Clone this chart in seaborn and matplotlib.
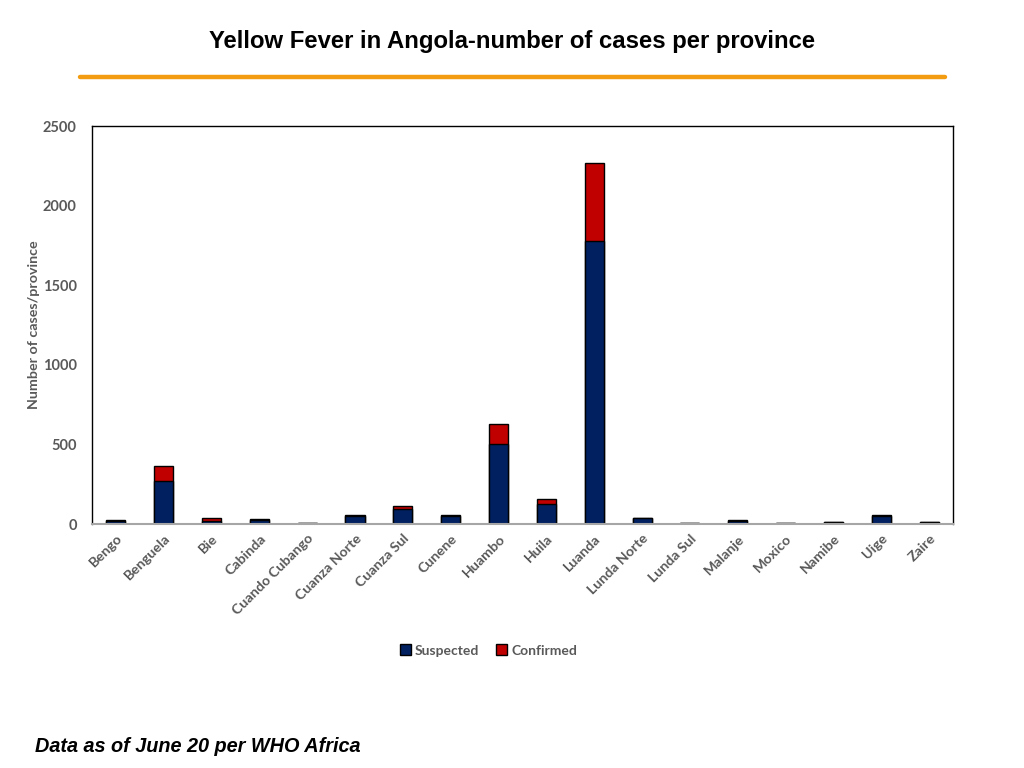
import matplotlib
matplotlib.use("Agg")
import matplotlib.pyplot as plt
import matplotlib.patches as mpatches
import seaborn as sns
import pandas as pd

provinces = ["Bengo", "Benguela", "Bie", "Cabinda", "Cuando Cubango", "Cuanza Norte",
             "Cuanza Sul", "Cunene", "Huambo", "Huila", "Luanda", "Lunda Norte",
             "Lunda Sul", "Malanje", "Moxico", "Namibe", "Uige", "Zaire"]
suspected = [19, 270, 17, 25, 7, 48, 94, 50, 503, 124, 1778, 35, 6, 20, 6, 12, 50, 12]
confirmed = [6, 94, 21, 6, 2, 7, 19, 5, 125, 35, 490, 5, 1, 5, 1, 3, 7, 3]

df = pd.DataFrame({"province": provinces, "suspected": suspected, "confirmed": confirmed})
df["total"] = df["suspected"] + df["confirmed"]

sns.set_style("white")
plt.rcParams["font.family"] = ["Lato", "DejaVu Sans"]
plt.rcParams["text.color"] = "black"

navy = "#002060"
red = "#C00000"
grey = "#595959"

fig = plt.figure(figsize=(10.24, 7.68), dpi=100)
ax = fig.add_axes([0.0898, 0.3177, 0.8409, 0.5182])

# stacked bars: totals in red underneath, suspected in navy on top
sns.barplot(data=df, x="province", y="total", color=red, width=0.4,
            edgecolor="black", linewidth=1, saturation=1, ax=ax)
sns.barplot(data=df, x="province", y="suspected", color=navy, width=0.4,
            edgecolor="black", linewidth=1, saturation=1, ax=ax)

ax.set_ylim(0, 2500)
ax.set_xlim(-0.5, len(provinces) - 0.5)
ax.set_yticks([0, 500, 1000, 1500, 2000, 2500])
ax.set_xlabel("")
ax.set_ylabel("Number of cases/province", fontsize=10.3, fontweight="bold", color=grey, labelpad=2)
ax.tick_params(axis="y", labelsize=10.5, labelcolor=grey, length=0, pad=11)
ax.tick_params(axis="x", labelsize=10.2, labelcolor=grey, length=0, pad=6)
for lbl in ax.get_yticklabels() + ax.get_xticklabels():
    lbl.set_fontweight("bold")
plt.setp(ax.get_xticklabels(), rotation=45, ha="right", rotation_mode="anchor")

for side in ["top", "right", "left"]:
    ax.spines[side].set_color("black")
    ax.spines[side].set_linewidth(1)
ax.spines["bottom"].set_color("#a6a6a6")
ax.spines["bottom"].set_linewidth(1.5)

handles = [mpatches.Patch(facecolor=navy, edgecolor="black", label="Suspected"),
           mpatches.Patch(facecolor=red, edgecolor="black", label="Confirmed")]
leg = fig.legend(handles=handles, loc="center", bbox_to_anchor=(0.477, 0.153), ncol=2,
                 frameon=False, fontsize=10, handlelength=0.8, handleheight=0.8,
                 handletextpad=0.3, columnspacing=1.2, labelcolor=grey)
for t in leg.get_texts():
    t.set_fontweight("bold")

fig.text(0.5, 0.946, "Yellow Fever in Angola-number of cases per province", ha="center", va="center",
         fontsize=17.2, fontweight="bold", color="black", family=["Liberation Sans", "DejaVu Sans"])
fig.add_artist(plt.Line2D([80 / 1024, 945 / 1024], [1 - 77 / 768, 1 - 77 / 768],
                          color="#F39C12", linewidth=3.2, transform=fig.transFigure))
fig.text(35 / 1024, 1 - 746 / 768, "Data as of June 20 per WHO Africa", ha="left", va="center",
         fontsize=14.3, fontweight="bold", fontstyle="italic", color="black",
         family=["Liberation Sans", "DejaVu Sans"])

fig.savefig("out.png", dpi=100)
